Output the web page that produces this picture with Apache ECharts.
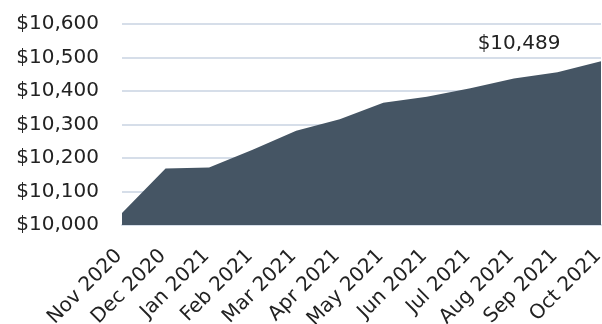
<!DOCTYPE html>
<html>
<head>
<meta charset="utf-8">
<script src="https://cdn.jsdelivr.net/npm/echarts@6/dist/echarts.min.js"></script>
<style>
  html, body { margin: 0; padding: 0; background: #fff; }
  #chart { width: 602px; height: 324px; }
</style>
</head>
<body>
<div id="chart"></div>
<script>
// 月份
const months = ['Nov 2020', 'Dec 2020', 'Jan 2021', 'Feb 2021', 'Mar 2021', 'Apr 2021',
  'May 2021', 'Jun 2021', 'Jul 2021', 'Aug 2021', 'Sep 2021', 'Oct 2021']
// 组合价值
const values = [10036, 10169, 10172, 10225, 10281, 10316, 10365, 10383, 10408, 10437, 10456, 10489]
// y 轴范围
const yMin = 10000
const yMax = 10600
const yStep = 100

const fmt = (v) => '$' + v.toLocaleString('en-US')
const font = 'DejaVu Sans'

const chart = echarts.init(document.getElementById('chart'))

const option = {
  animation: false,
  textStyle: { fontFamily: font, color: '#222' },
  grid: { left: 122, right: 1, top: 24, bottom: 99, outerBoundsMode: 'none', containLabel: false },
  xAxis: {
    type: 'category',
    data: months,
    boundaryGap: false,
    axisLine: { lineStyle: { color: '#D6DEE9', width: 2 } },
    axisTick: { show: false },
    axisLabel: { rotate: 45, fontSize: 20, fontFamily: font, color: '#222', margin: 25, padding: [0, 4, 0, 0] }
  },
  yAxis: {
    type: 'value',
    min: yMin,
    max: yMax,
    interval: yStep,
    axisLine: { show: false },
    axisTick: { show: false },
    splitLine: { lineStyle: { color: '#D6DEE9', width: 2 } },
    axisLabel: { fontSize: 20, fontFamily: font, color: '#222', margin: 23, formatter: fmt }
  },
  series: [
    {
      type: 'line',
      data: values.map((v, i) => i === values.length - 1
        ? { value: v, label: { show: true, position: 'top', offset: [-82, -2], fontSize: 20, fontFamily: font, color: '#222', formatter: (p) => fmt(p.value) } }
        : v),
      symbol: 'circle',
      symbolSize: 0,
      showSymbol: true,
      lineStyle: { width: 0 },
      areaStyle: { color: '#455564', opacity: 1 }
    }
  ]
}

chart.setOption(option)
</script>
</body>
</html>
